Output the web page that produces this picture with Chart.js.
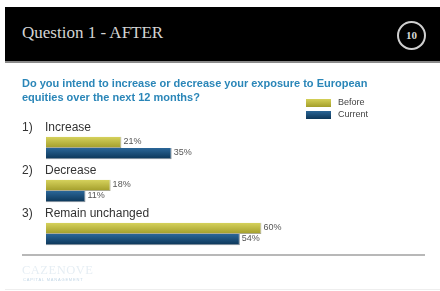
<!DOCTYPE html>
<html>
<head>
<meta charset="utf-8">
<script src="https://cdn.jsdelivr.net/npm/chart.js@4"></script>
<style>
  html,body{margin:0;padding:0;background:#fff;}
  #wrap{position:relative;width:440px;height:291px;overflow:hidden;font-family:Arial,"Liberation Sans",sans-serif;}
  #c{position:absolute;left:0;top:0;}
  .abs{position:absolute;}
  #header{left:5px;top:7px;width:435px;height:54px;background:#000;}
  #hline{left:5px;top:61px;width:435px;height:2px;background:#8a8a8a;}
  #title{left:22px;top:23px;font-family:"Liberation Serif","DejaVu Serif",serif;font-size:17px;color:#d4d4d4;white-space:nowrap;}
  #circle{left:397px;top:21px;width:25px;height:25px;border:2px solid #cfcfcf;border-radius:50%;color:#d8d8d8;font-family:"Liberation Serif",serif;font-weight:bold;font-size:11px;text-align:center;line-height:25px;}
  #q{left:22px;top:76px;font-size:11px;font-weight:bold;color:#2a86b8;line-height:14px;white-space:nowrap;}
  .sw{left:306px;width:25px;height:8px;}
  .lt{left:338px;font-size:9px;color:#444;white-space:nowrap;}
  #sep{left:22px;top:254px;width:403px;height:2px;background:#b8b8b8;}
  #logo1{left:22px;top:263px;font-family:"Liberation Serif",serif;font-size:12.5px;letter-spacing:0.5px;color:#e6eef4;}
  #logo2{left:23px;top:277px;font-size:4px;letter-spacing:0.8px;color:#c2d6e6;white-space:nowrap;}
  #bline{left:5px;top:289px;width:435px;height:1px;background:#eeeeee;}
</style>
</head>
<body>
<div id="wrap">
  <canvas id="c" width="440" height="291"></canvas>
  <div class="abs" id="header"></div>
  <div class="abs" id="hline"></div>
  <div class="abs" id="title">Question 1 - AFTER</div>
  <div class="abs" id="circle">10</div>
  <div class="abs" id="q">Do you intend to increase or decrease your exposure to European<br>equities over the next 12 months?</div>
  <div class="abs sw" style="top:99px;background:linear-gradient(#d4d058,#a39e2a);"></div>
  <div class="abs sw" style="top:111px;background:linear-gradient(#2a6596,#0c3658);"></div>
  <div class="abs lt" id="lt0" style="top:97px;"></div>
  <div class="abs lt" id="lt1" style="top:109px;"></div>
  <div class="abs" id="sep"></div>
  <div class="abs" id="logo1">CAZENOVE</div>
  <div class="abs" id="logo2">CAPITAL MANAGEMENT</div>
  <div class="abs" id="bline"></div>
</div>
<script>
const categories = ['Increase', 'Decrease', 'Remain unchanged'];
const numbering = ['1)', '2)', '3)'];
const seriesNames = ['Before', 'Current'];
const beforeValues = [21, 18, 60];
const currentValues = [35, 11, 54];

document.getElementById('lt0').textContent = seriesNames[0];
document.getElementById('lt1').textContent = seriesNames[1];

const CAT_PCT = 0.52;
const gradStops = [['#d6d25c', '#a29d2a'], ['#2b6698', '#0b3557']];

function barGradient(ctx) {
  const chart = ctx.chart;
  const y = chart.scales.y;
  const solid = gradStops[ctx.datasetIndex][1];
  if (!y || ctx.dataIndex === undefined) return solid;
  const c = y.getPixelForValue(ctx.dataIndex);
  const band = (y.height / categories.length) * CAT_PCT / 2;
  const top = ctx.datasetIndex === 0 ? c - band : c;
  if (!isFinite(top)) return solid;
  const g = chart.ctx.createLinearGradient(0, top, 0, top + band);
  g.addColorStop(0, gradStops[ctx.datasetIndex][0]);
  g.addColorStop(1, gradStops[ctx.datasetIndex][1]);
  return g;
}

const labelPlugin = {
  id: 'labels',
  afterDatasetsDraw(chart) {
    const ctx = chart.ctx;
    const y = chart.scales.y;
    ctx.save();
    ctx.fillStyle = '#333';
    ctx.font = '12px Arial, "Liberation Sans", sans-serif';
    ctx.textBaseline = 'middle';
    ctx.textAlign = 'left';
    categories.forEach((cat, i) => {
      const c = y.getPixelForValue(i);
      ctx.fillText(numbering[i], 22, c - 20);
      ctx.fillText(cat, 45, c - 20);
    });
    ctx.font = '9px Arial, "Liberation Sans", sans-serif';
    ctx.fillStyle = '#555';
    chart.data.datasets.forEach((ds, di) => {
      const meta = chart.getDatasetMeta(di);
      meta.data.forEach((el, i) => {
        ctx.fillText(ds.data[i] + '%', el.x + 2, el.y - 1);
      });
    });
    ctx.restore();
  }
};

new Chart(document.getElementById('c'), {
  type: 'bar',
  data: {
    labels: categories,
    datasets: [
      { label: seriesNames[0], data: beforeValues, backgroundColor: barGradient,
        borderColor: 'rgba(90,90,40,0.5)', borderWidth: {top:0,left:0,right:1,bottom:1},
        categoryPercentage: CAT_PCT, barPercentage: 1 },
      { label: seriesNames[1], data: currentValues, backgroundColor: barGradient,
        borderColor: 'rgba(10,30,50,0.5)', borderWidth: {top:0,left:0,right:1,bottom:1},
        categoryPercentage: CAT_PCT, barPercentage: 1 }
    ]
  },
  options: {
    indexAxis: 'y',
    responsive: false,
    animation: false,
    layout: { padding: { left: 46, right: 35, top: 126.5, bottom: 35.5 } },
    scales: {
      x: { display: false, min: 0, max: 100 },
      y: { display: false }
    },
    plugins: {
      legend: { display: false },
      tooltip: { enabled: false }
    }
  },
  plugins: [labelPlugin]
});
</script>
</body>
</html>
